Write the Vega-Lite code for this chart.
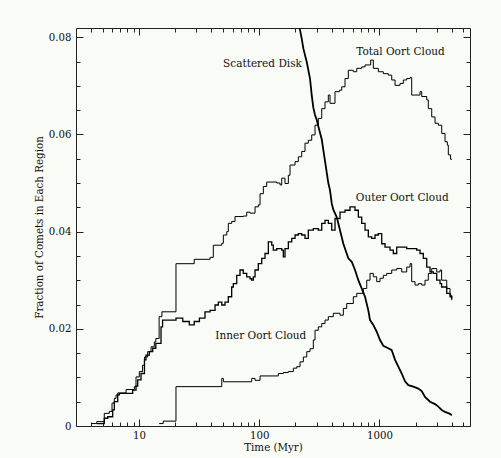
{
"$schema": "https://vega.github.io/schema/vega-lite/v6.json",
"width": 394, "height": 398,
"autosize": {"type": "none"},
"padding": {"left": 76, "top": 28, "right": 31, "bottom": 32},
"background": "#f8fbf6",
"config": {
  "view": {"stroke": null},
  "font": "DejaVu Serif",
  "axis": {"grid": false, "labelFont": "DejaVu Serif", "titleFont": "DejaVu Serif", "labelFontSize": 10.2, "titleFontSize": 10.3, "titleFontWeight": "normal", "labelColor": "#111", "titleColor": "#111", "tickColor": "#222", "domainColor": "#222", "labelFlush": false, "labelOverlap": false}
},
"datasets": {
"curves": [
{"s":"T","t":4.0,"f":0.0005},{"s":"T","t":4.45,"f":0.0009},{"s":"T","t":5.14,"f":0.0026},{"s":"T","t":5.66,"f":0.003},{"s":"T","t":5.96,"f":0.0047},{"s":"T","t":6.23,"f":0.0057},{"s":"T","t":6.44,"f":0.0064},{"s":"T","t":6.65,"f":0.0068},{"s":"T","t":7.8,"f":0.0075},{"s":"T","t":9.14,"f":0.0081},{"s":"T","t":9.44,"f":0.0101},{"s":"T","t":10.06,"f":0.0112},{"s":"T","t":10.7,"f":0.0125},{"s":"T","t":11.1,"f":0.0142},{"s":"T","t":11.8,"f":0.0153},{"s":"T","t":12.6,"f":0.0163},{"s":"T","t":13.4,"f":0.0173},{"s":"T","t":13.8,"f":0.018},{"s":"T","t":14.7,"f":0.0225},{"s":"T","t":15.5,"f":0.0235},{"s":"T","t":20.3,"f":0.0334},{"s":"T","t":28.8,"f":0.0343},{"s":"T","t":39.0,"f":0.0347},{"s":"T","t":41.5,"f":0.0372},{"s":"T","t":48.8,"f":0.0376},{"s":"T","t":50.3,"f":0.0393},{"s":"T","t":53.7,"f":0.04},{"s":"T","t":55.3,"f":0.0417},{"s":"T","t":59.0,"f":0.0421},{"s":"T","t":62.9,"f":0.0431},{"s":"T","t":73.7,"f":0.0432},{"s":"T","t":78.7,"f":0.044},{"s":"T","t":83.9,"f":0.0438},{"s":"T","t":92.3,"f":0.0451},{"s":"T","t":98.3,"f":0.0455},{"s":"T","t":101.6,"f":0.0478},{"s":"T","t":108.2,"f":0.0493},{"s":"T","t":115.4,"f":0.0502},{"s":"T","t":139.8,"f":0.05},{"s":"T","t":149,"f":0.0496},{"s":"T","t":153.9,"f":0.051},{"s":"T","t":163.9,"f":0.0499},{"s":"T","t":174.7,"f":0.0516},{"s":"T","t":180.4,"f":0.0537},{"s":"T","t":198.6,"f":0.0544},{"s":"T","t":211.5,"f":0.0554},{"s":"T","t":225.7,"f":0.0565},{"s":"T","t":240.4,"f":0.0582},{"s":"T","t":256.1,"f":0.0588},{"s":"T","t":273.4,"f":0.0599},{"s":"T","t":291.2,"f":0.0619},{"s":"T","t":310.2,"f":0.0633},{"s":"T","t":331.1,"f":0.0653},{"s":"T","t":352.7,"f":0.0667},{"s":"T","t":375.7,"f":0.0681},{"s":"T","t":388.2,"f":0.0664},{"s":"T","t":427,"f":0.0688},{"s":"T","t":464,"f":0.0691},{"s":"T","t":485.9,"f":0.0698},{"s":"T","t":517.4,"f":0.0715},{"s":"T","t":551.2,"f":0.0732},{"s":"T","t":606.5,"f":0.0729},{"s":"T","t":647.4,"f":0.0736},{"s":"T","t":712.4,"f":0.0739},{"s":"T","t":759.1,"f":0.0743},{"s":"T","t":846.4,"f":0.0753},{"s":"T","t":889.7,"f":0.0736},{"s":"T","t":979,"f":0.0729},{"s":"T","t":1077.5,"f":0.0725},{"s":"T","t":1186,"f":0.0722},{"s":"T","t":1266,"f":0.0712},{"s":"T","t":1349,"f":0.0701},{"s":"T","t":1484,"f":0.0705},{"s":"T","t":1581,"f":0.0712},{"s":"T","t":1687,"f":0.0715},{"s":"T","t":1797,"f":0.0717},{"s":"T","t":1856,"f":0.0681},{"s":"T","t":2177,"f":0.0688},{"s":"T","t":2248,"f":0.0678},{"s":"T","t":2475,"f":0.0671},{"s":"T","t":2552,"f":0.0653},{"s":"T","t":2724,"f":0.0636},{"s":"T","t":2901,"f":0.0623},{"s":"T","t":3090,"f":0.0619},{"s":"T","t":3299,"f":0.0602},{"s":"T","t":3514,"f":0.0585},{"s":"T","t":3672,"f":0.0578},{"s":"T","t":3743,"f":0.0558},{"s":"T","t":3900,"f":0.0549},{"s":"T","t":4020,"f":0.0549},
{"s":"O","t":4.45,"f":0.0005},{"s":"O","t":5.14,"f":0.0016},{"s":"O","t":5.49,"f":0.0019},{"s":"O","t":6.04,"f":0.0033},{"s":"O","t":6.23,"f":0.005},{"s":"O","t":6.65,"f":0.0064},{"s":"O","t":6.86,"f":0.0067},{"s":"O","t":8.86,"f":0.0074},{"s":"O","t":9.44,"f":0.0082},{"s":"O","t":9.75,"f":0.0095},{"s":"O","t":10.39,"f":0.0108},{"s":"O","t":11.1,"f":0.0136},{"s":"O","t":11.43,"f":0.0146},{"s":"O","t":12.18,"f":0.0153},{"s":"O","t":13.0,"f":0.016},{"s":"O","t":13.8,"f":0.017},{"s":"O","t":15.24,"f":0.0204},{"s":"O","t":15.7,"f":0.0218},{"s":"O","t":20.3,"f":0.0222},{"s":"O","t":23.1,"f":0.0215},{"s":"O","t":26.2,"f":0.0208},{"s":"O","t":28.8,"f":0.0215},{"s":"O","t":31.8,"f":0.0222},{"s":"O","t":35.4,"f":0.0235},{"s":"O","t":39.0,"f":0.0238},{"s":"O","t":42.9,"f":0.0249},{"s":"O","t":45.7,"f":0.0255},{"s":"O","t":48.8,"f":0.0249},{"s":"O","t":51.9,"f":0.0255},{"s":"O","t":55.3,"f":0.0266},{"s":"O","t":59.0,"f":0.0286},{"s":"O","t":60.9,"f":0.0293},{"s":"O","t":65.0,"f":0.031},{"s":"O","t":69.2,"f":0.0321},{"s":"O","t":73.7,"f":0.0314},{"s":"O","t":78.7,"f":0.0307},{"s":"O","t":83.9,"f":0.0303},{"s":"O","t":86.6,"f":0.03},{"s":"O","t":89.3,"f":0.0307},{"s":"O","t":92.3,"f":0.0321},{"s":"O","t":98.3,"f":0.0334},{"s":"O","t":104.9,"f":0.0345},{"s":"O","t":111.7,"f":0.0355},{"s":"O","t":119.1,"f":0.0379},{"s":"O","t":127.1,"f":0.0372},{"s":"O","t":131,"f":0.0362},{"s":"O","t":139.8,"f":0.0365},{"s":"O","t":153.9,"f":0.0362},{"s":"O","t":158.7,"f":0.0348},{"s":"O","t":163.9,"f":0.0365},{"s":"O","t":174.7,"f":0.0379},{"s":"O","t":186.4,"f":0.0386},{"s":"O","t":198.6,"f":0.0393},{"s":"O","t":211.5,"f":0.0396},{"s":"O","t":225.7,"f":0.0393},{"s":"O","t":240.4,"f":0.0386},{"s":"O","t":256.1,"f":0.0403},{"s":"O","t":281.9,"f":0.0406},{"s":"O","t":310.2,"f":0.0403},{"s":"O","t":331.1,"f":0.0417},{"s":"O","t":352.7,"f":0.0423},{"s":"O","t":375.7,"f":0.0417},{"s":"O","t":401.1,"f":0.0403},{"s":"O","t":427.2,"f":0.0427},{"s":"O","t":470.1,"f":0.044},{"s":"O","t":517.4,"f":0.0444},{"s":"O","t":569.4,"f":0.0451},{"s":"O","t":626.6,"f":0.0444},{"s":"O","t":667.6,"f":0.043},{"s":"O","t":712.4,"f":0.0417},{"s":"O","t":759.1,"f":0.0403},{"s":"O","t":808.5,"f":0.0389},{"s":"O","t":863,"f":0.0386},{"s":"O","t":919.2,"f":0.0393},{"s":"O","t":979,"f":0.0396},{"s":"O","t":1045,"f":0.0375},{"s":"O","t":1113,"f":0.0368},{"s":"O","t":1225,"f":0.0362},{"s":"O","t":1305,"f":0.0355},{"s":"O","t":1393,"f":0.0368},{"s":"O","t":1533,"f":0.0368},{"s":"O","t":1687,"f":0.0365},{"s":"O","t":1914,"f":0.0365},{"s":"O","t":2043,"f":0.0362},{"s":"O","t":2177,"f":0.0355},{"s":"O","t":2318,"f":0.0345},{"s":"O","t":2475,"f":0.0327},{"s":"O","t":2636,"f":0.0317},{"s":"O","t":2808,"f":0.0314},{"s":"O","t":2998,"f":0.03},{"s":"O","t":3193,"f":0.0293},{"s":"O","t":3292,"f":0.0286},{"s":"O","t":3630,"f":0.0273},{"s":"O","t":3867,"f":0.0266},{"s":"O","t":3995,"f":0.0262},
{"s":"I","t":14.7,"f":0.0005},{"s":"I","t":15.9,"f":0.001},{"s":"I","t":20.3,"f":0.0081},{"s":"I","t":48.8,"f":0.0098},{"s":"I","t":50.3,"f":0.0091},{"s":"I","t":86.6,"f":0.0098},{"s":"I","t":92.3,"f":0.0094},{"s":"I","t":101.6,"f":0.0103},{"s":"I","t":144.2,"f":0.0108},{"s":"I","t":158.7,"f":0.011},{"s":"I","t":174.7,"f":0.0112},{"s":"I","t":192.2,"f":0.0119},{"s":"I","t":205.1,"f":0.0122},{"s":"I","t":218.5,"f":0.0132},{"s":"I","t":232.8,"f":0.0142},{"s":"I","t":248.5,"f":0.0153},{"s":"I","t":264.6,"f":0.0159},{"s":"I","t":281.9,"f":0.0177},{"s":"I","t":291.2,"f":0.0197},{"s":"I","t":310.2,"f":0.0204},{"s":"I","t":331.1,"f":0.0211},{"s":"I","t":352.7,"f":0.0218},{"s":"I","t":375.7,"f":0.0225},{"s":"I","t":413.5,"f":0.0232},{"s":"I","t":470.1,"f":0.0228},{"s":"I","t":500.9,"f":0.0242},{"s":"I","t":534.6,"f":0.0252},{"s":"I","t":606.5,"f":0.0266},{"s":"I","t":647.4,"f":0.0273},{"s":"I","t":734.7,"f":0.0283},{"s":"I","t":784.3,"f":0.03},{"s":"I","t":835.2,"f":0.0314},{"s":"I","t":889.7,"f":0.0307},{"s":"I","t":949.5,"f":0.0297},{"s":"I","t":1011.6,"f":0.0304},{"s":"I","t":1077.5,"f":0.031},{"s":"I","t":1150,"f":0.0314},{"s":"I","t":1266,"f":0.0321},{"s":"I","t":1393,"f":0.0324},{"s":"I","t":1533,"f":0.0317},{"s":"I","t":1687,"f":0.0327},{"s":"I","t":1797,"f":0.0334},{"s":"I","t":1856,"f":0.0297},{"s":"I","t":1978,"f":0.029},{"s":"I","t":2107,"f":0.0293},{"s":"I","t":2248,"f":0.029},{"s":"I","t":2395,"f":0.03},{"s":"I","t":2552,"f":0.0314},{"s":"I","t":2724,"f":0.0324},{"s":"I","t":2998,"f":0.0317},{"s":"I","t":3193,"f":0.0321},{"s":"I","t":3292,"f":0.03},{"s":"I","t":3630,"f":0.0283},{"s":"I","t":3867,"f":0.0269},{"s":"I","t":3995,"f":0.0259},
{"s":"S","t":214.3,"f":0.083},{"s":"S","t":218.5,"f":0.0815},{"s":"S","t":225.7,"f":0.0797},{"s":"S","t":232.8,"f":0.0777},{"s":"S","t":248.5,"f":0.0749},{"s":"S","t":264.6,"f":0.0715},{"s":"S","t":273.4,"f":0.0681},{"s":"S","t":281.9,"f":0.0655},{"s":"S","t":291.2,"f":0.064},{"s":"S","t":300.9,"f":0.063},{"s":"S","t":310.2,"f":0.0617},{"s":"S","t":331.1,"f":0.059},{"s":"S","t":352.7,"f":0.0545},{"s":"S","t":375.7,"f":0.05},{"s":"S","t":388.2,"f":0.0485},{"s":"S","t":401.1,"f":0.0458},{"s":"S","t":413.5,"f":0.0445},{"s":"S","t":441.4,"f":0.043},{"s":"S","t":470.1,"f":0.0403},{"s":"S","t":500.9,"f":0.0375},{"s":"S","t":551.2,"f":0.0345},{"s":"S","t":588.4,"f":0.0338},{"s":"S","t":626.6,"f":0.0321},{"s":"S","t":667.6,"f":0.03},{"s":"S","t":712.4,"f":0.0283},{"s":"S","t":759.1,"f":0.0266},{"s":"S","t":808.5,"f":0.0238},{"s":"S","t":835.2,"f":0.0218},{"s":"S","t":889.7,"f":0.0208},{"s":"S","t":949.5,"f":0.0194},{"s":"S","t":1011.6,"f":0.0177},{"s":"S","t":1077.5,"f":0.0165},{"s":"S","t":1186,"f":0.016},{"s":"S","t":1266,"f":0.0156},{"s":"S","t":1349,"f":0.0136},{"s":"S","t":1437,"f":0.0122},{"s":"S","t":1533,"f":0.0108},{"s":"S","t":1633,"f":0.0092},{"s":"S","t":1739,"f":0.0084},{"s":"S","t":1914,"f":0.0081},{"s":"S","t":2107,"f":0.0077},{"s":"S","t":2248,"f":0.0072},{"s":"S","t":2395,"f":0.006},{"s":"S","t":2636,"f":0.005},{"s":"S","t":2901,"f":0.0045},{"s":"S","t":3090,"f":0.004},{"s":"S","t":3299,"f":0.0033},{"s":"S","t":3514,"f":0.0029},{"s":"S","t":3867,"f":0.0025},{"s":"S","t":3995,"f":0.0022}
],
"labels": [
{"label":"Scattered Disk","t":106.5,"f":0.0745},
{"label":"Total Oort Cloud","t":1498,"f":0.0769},
{"label":"Outer Oort Cloud","t":1548,"f":0.047},
{"label":"Inner Oort Cloud","t":103.1,"f":0.01856}
]
},
"layer": [
{
  "data": {"name": "curves"},
  "transform": [{"filter": {"field": "s", "oneOf": ["T", "I"]}}],
  "mark": {"type": "line", "interpolate": "step-after", "color": "#000", "strokeWidth": 1, "clip": true},
  "encoding": {
    "x": {"field": "t", "type": "quantitative", "scale": {"type": "log", "domain": [2.99, 5670], "nice": false, "zero": false},
      "axis": {"orient": "bottom", "values": [10, 100, 1000], "format": "d", "tickSize": -7, "labelPadding": 11, "title": "Time (Myr)", "titlePadding": 2, "domain": true}},
    "y": {"field": "f", "type": "quantitative", "scale": {"domain": [0, 0.0819], "nice": false, "zero": false},
      "axis": {"orient": "left", "values": [0, 0.02, 0.04, 0.06, 0.08], "format": "~g", "tickSize": -7, "labelPadding": 12, "title": "Fraction of Comets in Each Region", "titlePadding": 4, "domain": true}},
    "detail": {"field": "s"}
  }
},
{
  "data": {"name": "curves"},
  "transform": [{"filter": {"field": "s", "equal": "O"}}],
  "mark": {"type": "line", "interpolate": "step-after", "color": "#000", "strokeWidth": 1.3, "clip": true},
  "encoding": {
    "x": {"field": "t", "type": "quantitative", "scale": {"type": "log", "domain": [2.99, 5670], "nice": false, "zero": false},
      "axis": {"orient": "bottom", "values": [4,5,6,7,8,9,20,30,40,50,60,70,80,90,200,300,400,500,600,700,800,900,2000,3000,4000,5000], "tickSize": -4, "labels": false, "title": null, "domain": false}},
    "y": {"field": "f", "type": "quantitative", "scale": {"domain": [0, 0.0819], "nice": false, "zero": false},
      "axis": {"orient": "left", "values": [0.005,0.01,0.015,0.025,0.03,0.035,0.045,0.05,0.055,0.065,0.07,0.075], "tickSize": -4, "labels": false, "title": null, "domain": false}}
  }
},
{
  "data": {"name": "curves"},
  "transform": [{"filter": {"field": "s", "equal": "S"}}],
  "mark": {"type": "line", "interpolate": "linear", "color": "#000", "strokeWidth": 1.8, "clip": true},
  "encoding": {
    "x": {"field": "t", "type": "quantitative", "scale": {"type": "log", "domain": [2.99, 5670], "nice": false, "zero": false},
      "axis": {"orient": "top", "values": [10, 100, 1000], "tickSize": -7, "labels": false, "title": null, "domain": true}},
    "y": {"field": "f", "type": "quantitative", "scale": {"domain": [0, 0.0819], "nice": false, "zero": false},
      "axis": {"orient": "right", "values": [0, 0.02, 0.04, 0.06, 0.08], "tickSize": -7, "labels": false, "title": null, "domain": true}}
  }
},
{
  "data": {"name": "labels"},
  "mark": {"type": "text", "font": "DejaVu Serif", "fontSize": 10.5, "color": "#111", "align": "center", "baseline": "middle"},
  "encoding": {
    "x": {"field": "t", "type": "quantitative", "scale": {"type": "log", "domain": [2.99, 5670], "nice": false, "zero": false},
      "axis": {"orient": "top", "values": [4,5,6,7,8,9,20,30,40,50,60,70,80,90,200,300,400,500,600,700,800,900,2000,3000,4000,5000], "tickSize": -4, "labels": false, "title": null, "domain": false}},
    "y": {"field": "f", "type": "quantitative", "scale": {"domain": [0, 0.0819], "nice": false, "zero": false},
      "axis": {"orient": "right", "values": [0.005,0.01,0.015,0.025,0.03,0.035,0.045,0.05,0.055,0.065,0.07,0.075], "tickSize": -4, "labels": false, "title": null, "domain": false}},
    "text": {"field": "label"}
  }
}
],
"resolve": {"axis": {"x": "independent", "y": "independent"}}
}
